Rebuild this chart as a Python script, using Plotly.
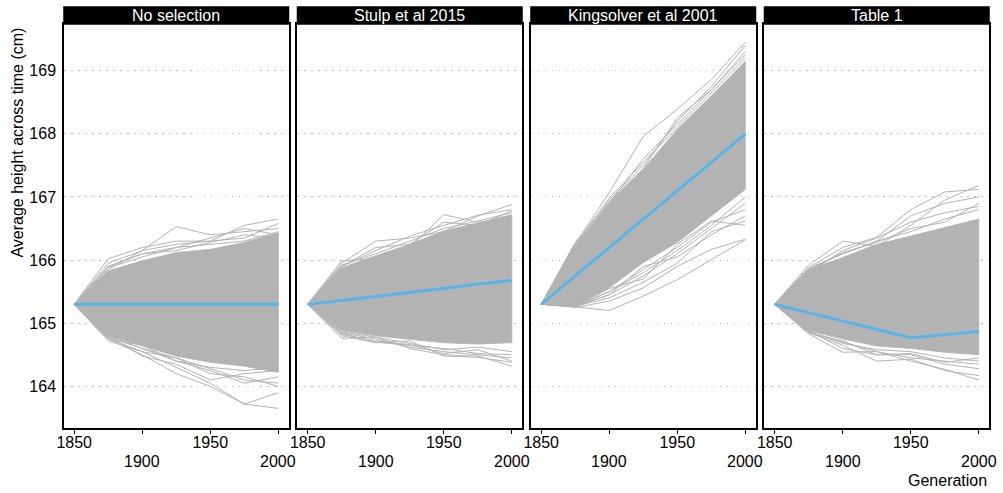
import plotly.graph_objects as go

# ---------------- data ----------------
years = [1850, 1875, 1900, 1925, 1950, 1975, 2000]
panel_titles = ["No selection", "Stulp et al 2015", "Kingsolver et al 2001", "Table 1"]
x_tick_vals = [1850, 1900, 1950, 2000]
x_tick_upper = ["1850", "", "1950", ""]      # first (upper) row of staggered labels
x_tick_lower_vals = [1900, 2000]              # second (lower) row of staggered labels
x_tick_lower_text = ["1900", "2000"]
y_tick_vals = [164, 165, 166, 167, 168, 169]

# mean trajectories (blue)
mean_none = [165.3, 165.3, 165.3, 165.3, 165.3, 165.3, 165.3]
mean_stulp = [165.3, 165.36, 165.43, 165.49, 165.55, 165.62, 165.68]
mean_king = [165.3, 165.75, 166.2, 166.65, 167.1, 167.55, 168.0]
mean_table1 = [165.3, 165.17, 165.04, 164.9, 164.77, 164.82, 164.87]

# dense core of the simulated trajectories (upper / lower edge)
core_up_none = [165.3, 165.83, 165.99, 166.12, 166.17, 166.28, 166.43]
core_lo_none = [165.3, 164.8, 164.64, 164.48, 164.38, 164.32, 164.22]
core_up_stulp = [165.3, 165.88, 166.07, 166.25, 166.46, 166.59, 166.72]
core_lo_stulp = [165.3, 164.88, 164.8, 164.75, 164.69, 164.67, 164.69]
core_up_king = [165.3, 166.22, 166.91, 167.44, 168.07, 168.6, 169.15]
core_lo_king = [165.3, 165.27, 165.56, 165.96, 166.28, 166.7, 167.12]
core_up_table1 = [165.3, 165.85, 166.04, 166.25, 166.38, 166.51, 166.65]
core_lo_table1 = [165.3, 164.88, 164.75, 164.64, 164.6, 164.54, 164.5]

# individual outlying simulated trajectories (grey lines)
runs_none = [
    [165.3, 165.95, 166.15, 166.53, 166.4, 166.45, 166.5],
    [165.3, 166.02, 166.2, 166.3, 166.3, 166.55, 166.65],
    [165.3, 165.9, 166.1, 166.2, 166.35, 166.5, 166.4],
    [165.3, 165.85, 166.15, 166.25, 166.3, 166.35, 166.58],
    [165.3, 165.88, 166.05, 166.2, 166.25, 166.3, 166.45],
    [165.3, 165.9, 166.1, 166.15, 166.28, 166.4, 166.35],
    [165.3, 164.75, 164.5, 164.2, 164.0, 163.72, 163.65],
    [165.3, 164.72, 164.55, 164.3, 164.05, 163.72, 163.9],
    [165.3, 164.8, 164.6, 164.45, 164.2, 164.15, 164.0],
    [165.3, 164.75, 164.65, 164.4, 164.25, 164.05, 164.15],
    [165.3, 164.8, 164.48, 164.35, 164.1, 164.2, 164.25],
    [165.3, 164.78, 164.6, 164.4, 164.3, 164.25, 164.3],
    [165.3, 164.76, 164.55, 164.45, 164.28, 164.1, 164.05],
]
runs_stulp = [
    [165.3, 165.99, 166.02, 166.2, 166.72, 166.6, 166.65],
    [165.3, 165.95, 166.3, 166.35, 166.45, 166.7, 166.88],
    [165.3, 165.9, 166.15, 166.38, 166.55, 166.71, 166.8],
    [165.3, 165.92, 166.1, 166.3, 166.5, 166.62, 166.75],
    [165.3, 165.9, 166.2, 166.25, 166.6, 166.55, 166.78],
    [165.3, 164.76, 164.78, 164.6, 164.5, 164.48, 164.32],
    [165.3, 164.8, 164.69, 164.72, 164.48, 164.46, 164.38],
    [165.3, 164.85, 164.75, 164.62, 164.55, 164.5, 164.45],
    [165.3, 164.82, 164.72, 164.66, 164.52, 164.58, 164.4],
    [165.3, 164.84, 164.7, 164.65, 164.6, 164.52, 164.5],
    [165.3, 164.86, 164.78, 164.68, 164.58, 164.62, 164.55],
]
runs_king = [
    [165.3, 166.25, 167.07, 167.96, 168.39, 168.86, 169.45],
    [165.3, 166.28, 166.95, 167.5, 168.2, 168.75, 169.4],
    [165.3, 166.2, 166.9, 167.6, 168.15, 168.7, 169.3],
    [165.3, 166.22, 166.98, 167.55, 168.1, 168.65, 169.2],
    [165.3, 166.25, 166.92, 167.45, 168.25, 168.7, 169.25],
    [165.3, 165.26, 165.2, 165.43, 165.69, 166.01, 166.32],
    [165.3, 165.25, 165.35, 165.56, 165.9, 166.17, 166.33],
    [165.3, 165.27, 165.4, 165.65, 165.95, 166.45, 166.62],
    [165.3, 165.28, 165.45, 165.75, 166.1, 166.5, 166.9],
    [165.3, 165.27, 165.5, 165.8, 166.15, 166.55, 167.0],
    [165.3, 165.28, 165.5, 165.85, 166.2, 166.6, 166.8],
    [165.3, 165.26, 165.45, 165.9, 166.05, 166.4, 166.7],
    [165.3, 165.27, 165.55, 165.7, 166.25, 166.62, 166.55],
]
runs_table1 = [
    [165.3, 165.92, 166.3, 166.22, 166.55, 166.95, 167.18],
    [165.3, 165.88, 166.2, 166.36, 166.8, 167.08, 167.12],
    [165.3, 165.85, 166.1, 166.3, 166.7, 166.9, 167.0],
    [165.3, 165.8, 166.15, 166.35, 166.6, 166.75, 166.85],
    [165.3, 165.87, 166.1, 166.3, 166.45, 166.65, 166.8],
    [165.3, 165.84, 166.12, 166.28, 166.5, 166.6, 166.9],
    [165.3, 164.83, 164.54, 164.55, 164.4, 164.27, 164.1],
    [165.3, 164.85, 164.65, 164.4, 164.43, 164.25, 164.17],
    [165.3, 164.88, 164.6, 164.5, 164.5, 164.35, 164.28],
    [165.3, 164.86, 164.7, 164.55, 164.45, 164.4, 164.35],
    [165.3, 164.87, 164.68, 164.58, 164.55, 164.45, 164.4],
    [165.3, 164.85, 164.72, 164.5, 164.52, 164.38, 164.45],
]

# ---------------- styling ----------------
GREY = "#b3b3b3"
BLUE = "#56B4E9"
FONT = "Liberation Sans, Arial, sans-serif"
FS = 16
X_RANGE = [1842.5, 2007.5]
Y_RANGE = [163.34, 169.74]

W, H = 1003, 493
ML, MR, MT, MB = 64, 12, 24, 65
PW = W - ML - MR
PH = H - MT - MB
panel_w, gap = 225, 9

panels = [
    (mean_none, core_up_none, core_lo_none, runs_none),
    (mean_stulp, core_up_stulp, core_lo_stulp, runs_stulp),
    (mean_king, core_up_king, core_lo_king, runs_king),
    (mean_table1, core_up_table1, core_lo_table1, runs_table1),
]

fig = go.Figure()
layout_axes = {}
shapes = []
annotations = []

for i, (mean, up, lo, runs) in enumerate(panels):
    sfx = "" if i == 0 else str(i + 1)
    xa, ya = "x" + sfx, "y" + sfx
    # dense core
    fig.add_trace(go.Scatter(
        x=years + years[::-1], y=up + lo[::-1], mode="lines", fill="toself",
        fillcolor=GREY, line=dict(width=0.8, color=GREY), xaxis=xa, yaxis=ya,
        hoverinfo="skip", showlegend=False))
    for r in runs:
        fig.add_trace(go.Scatter(
            x=years, y=r, mode="lines", line=dict(width=1, color=GREY),
            xaxis=xa, yaxis=ya, hoverinfo="skip", showlegend=False))
    fig.add_trace(go.Scatter(
        x=years, y=mean, mode="lines", line=dict(width=2.8, color=BLUE),
        xaxis=xa, yaxis=ya, showlegend=False))

    x0 = i * (panel_w + gap) / PW
    x1 = (i * (panel_w + gap) + panel_w) / PW
    layout_axes["xaxis" + sfx] = dict(
        domain=[x0, x1], range=X_RANGE, anchor=ya,
        tickvals=x_tick_vals, ticktext=x_tick_upper,
        ticks="outside", ticklen=4, tickwidth=1, tickcolor="black",
        ticklabelstandoff=-5,
        showline=True, mirror=True, linecolor="black", linewidth=1.5,
        showgrid=False, zeroline=False,
        tickfont=dict(family=FONT, size=FS, color="black"))
    yax = dict(
        domain=[0, 1], range=Y_RANGE, anchor=xa,
        tickvals=y_tick_vals, showticklabels=(i == 0),
        ticks="outside", ticklen=3, tickcolor="rgba(0,0,0,0)",
        showline=True, mirror=True, linecolor="black", linewidth=1.5,
        showgrid=True, gridcolor="#c4c4c4", gridwidth=1.3, griddash="1.5px,5.5px",
        zeroline=False,
        tickfont=dict(family=FONT, size=FS, color="black"))
    if i > 0:
        yax["matches"] = "y"
    layout_axes["yaxis" + sfx] = yax

    # lower row of staggered tick labels
    for v, t in zip(x_tick_lower_vals, x_tick_lower_text):
        annotations.append(dict(text=t, xref=xa, yref="paper", x=v,
                                y=(MT + PH - 461) / PH, xanchor="center",
                                yanchor="middle", showarrow=False,
                                font=dict(family=FONT, size=FS, color="black")))

    # strip
    shapes.append(dict(type="rect", xref="paper", yref="paper",
                       x0=x0, x1=x1, y0=1.0, y1=1 + 17 / PH,
                       fillcolor="black", line=dict(color="black", width=1.5)))
    annotations.append(dict(text=panel_titles[i], xref="paper", yref="paper",
                            x=(x0 + x1) / 2, y=1 + 8.5 / PH, xanchor="center",
                            yanchor="middle", showarrow=False,
                            font=dict(family=FONT, size=FS, color="white")))

annotations.append(dict(text="Average height across time (cm)", xref="paper", yref="paper",
                        x=(17 - ML) / PW, y=(MT + PH - 142.5) / PH, textangle=-90,
                        xanchor="center", yanchor="middle", showarrow=False,
                        font=dict(family=FONT, size=FS, color="black")))
annotations.append(dict(text="Generation", xref="paper", yref="paper",
                        x=1.0, y=(MT + PH - 481) / PH, xanchor="right",
                        yanchor="middle", showarrow=False,
                        font=dict(family=FONT, size=FS, color="black")))

fig.update_layout(
    width=W, height=H,
    margin=dict(l=ML, r=MR, t=MT, b=MB),
    paper_bgcolor="white", plot_bgcolor="white",
    showlegend=False, shapes=shapes, annotations=annotations,
    font=dict(family=FONT, size=FS, color="black"),
    **layout_axes)

fig.write_html("out.html")
